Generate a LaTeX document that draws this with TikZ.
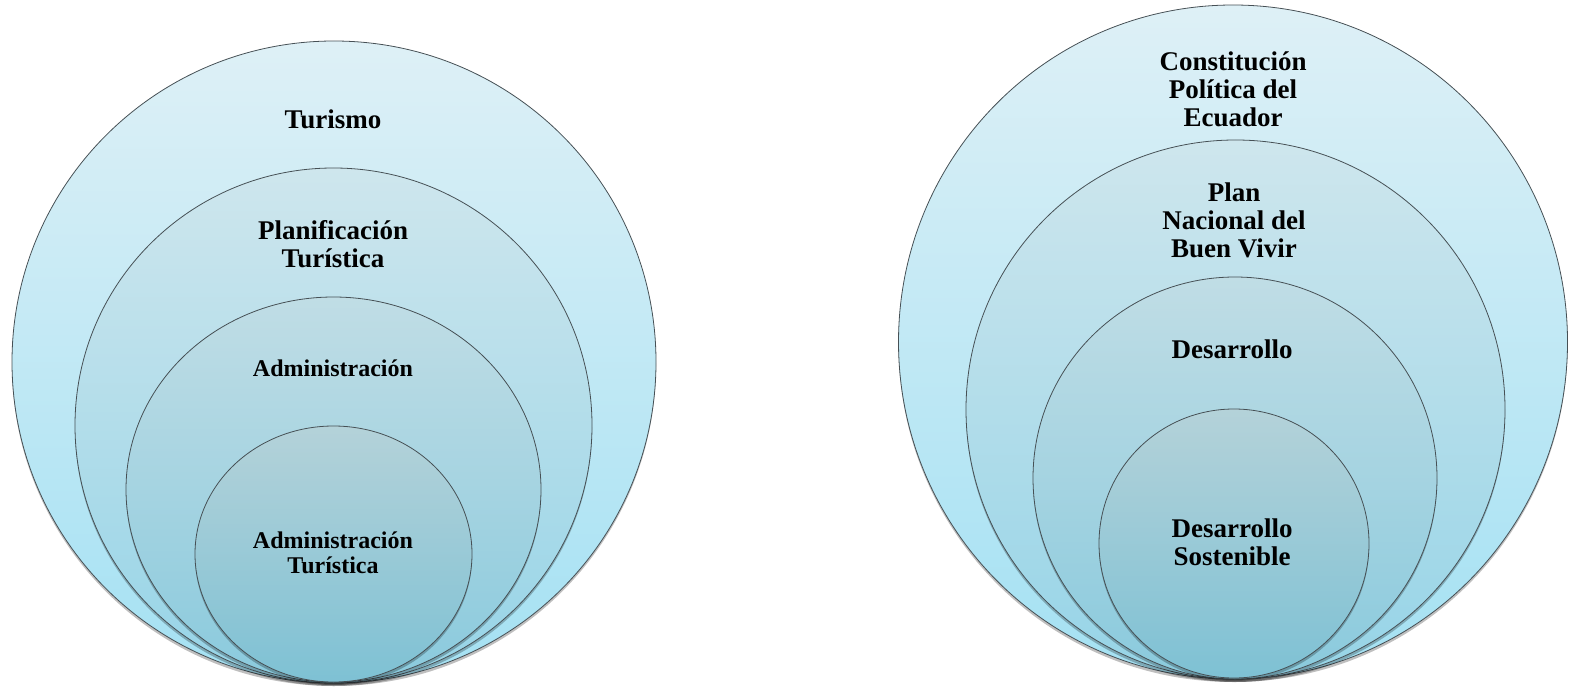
\documentclass[tikz,border=0pt]{standalone}
\usepackage{fontspec}
\setmainfont{Liberation Serif}
\usetikzlibrary{shapes.geometric}
\definecolor{outT}{RGB}{222,240,246}
\definecolor{outB}{RGB}{164,225,243}
\definecolor{twoT}{RGB}{206,230,237}
\definecolor{twoB}{RGB}{150,212,231}
\definecolor{thrT}{RGB}{192,221,229}
\definecolor{thrB}{RGB}{138,202,221}
\definecolor{fouT}{RGB}{180,210,217}
\definecolor{fouB}{RGB}{126,193,212}
\definecolor{edge}{RGB}{70,80,85}
\tikzset{
  ring/.style={ellipse, draw=edge, line width=0.8pt, inner sep=0pt, outer sep=0pt},
  ringshadow/.style={ellipse, fill=black, fill opacity=0.25, draw=none, inner sep=0pt, outer sep=0pt},
  lbl/.style={align=center, font=\fontsize{27}{28}\selectfont\bfseries, text=black, inner sep=0pt},
  lblsmall/.style={lbl, font=\fontsize{24}{25.5}\selectfont\bfseries}
}
\newcommand{\ringpair}[7]{%
  % #1 name, #2 cx, #3 cy, #4 rx, #5 ry, #6 top colour, #7 bottom colour
  \node[ringshadow, minimum width={2*#4 pt}, minimum height={2*#5 pt}] at (#2,#3+3) {};
  \node[ring, top color=#6, bottom color=#7, minimum width={2*#4 pt}, minimum height={2*#5 pt}] (#1) at (#2,#3) {};
}
\begin{document}
\begin{tikzpicture}[x=1pt,y=-1pt]
\useasboundingbox (0,0) rectangle (1570,687);
% left set
\ringpair{c1}{334}{362}{322}{321}{outT}{outB}
\ringpair{c2}{333.5}{425.5}{258.5}{257.5}{twoT}{twoB}
\ringpair{c3}{333.5}{489.5}{207.5}{192.5}{thrT}{thrB}
\ringpair{c4}{333.5}{554}{138.5}{128}{fouT}{fouB}
% right set
\ringpair{r1}{1233}{342}{334.5}{337}{outT}{outB}
\ringpair{r2}{1235.5}{409.5}{269.5}{269.5}{twoT}{twoB}
\ringpair{r3}{1235}{478}{202}{201}{thrT}{thrB}
\ringpair{r4}{1234}{543.5}{135}{134.5}{fouT}{fouB}
% labels
\node[lbl] (t1) at (333,119) {Turismo};
\node[lbl] (t2) at (333,244) {Planificación\\Turística};
\node[lblsmall] (t3) at (333,368) {Administración};
\node[lblsmall] (t4) at (333,553) {Administración\\Turística};
\node[lbl] (s1) at (1233,89) {Constitución\\Política del\\Ecuador};
\node[lbl] (s2) at (1234,220) {Plan\\Nacional del\\Buen Vivir};
\node[lbl] (s3) at (1232,349) {Desarrollo};
\node[lbl] (s4) at (1232,542) {Desarrollo\\Sostenible};
\end{tikzpicture}
\end{document}
